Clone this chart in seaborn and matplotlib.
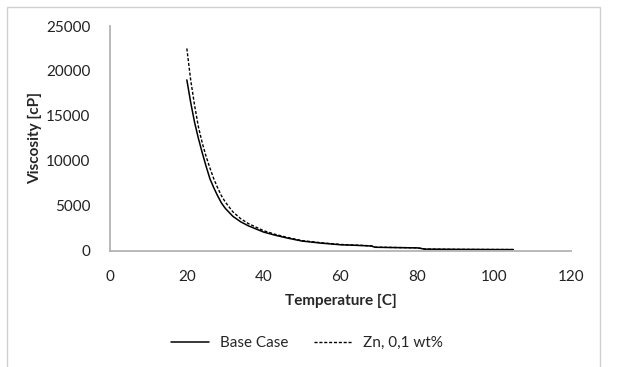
import matplotlib
matplotlib.use("Agg")
import matplotlib.pyplot as plt
from matplotlib.patches import Rectangle
import seaborn as sns
import pandas as pd

temperature = [20, 21, 22, 23, 24, 25, 26, 27, 28, 29, 30, 32, 34, 36, 38, 40, 43, 46,
               50, 55, 60, 65, 68, 69, 75, 80, 82, 90, 100, 105]
base_case = [19000, 16500, 14300, 12500, 10900, 9400, 8000, 7000, 6100, 5300, 4700, 3800,
             3200, 2750, 2400, 2050, 1700, 1400, 1050, 820, 640, 560, 500, 360, 320, 290,
             150, 125, 105, 100]
zn_01 = [22500, 19000, 16200, 13800, 12000, 10500, 9200, 8000, 7000, 6100, 5400, 4300,
         3550, 3000, 2600, 2200, 1800, 1470, 1100, 860, 670, 580, 520, 370, 330, 300,
         160, 130, 110, 105]
series_names = ["Base Case", "Zn, 0,1 wt%"]
x_ticks = [0, 20, 40, 60, 80, 100, 120]
y_ticks = [0, 5000, 10000, 15000, 20000, 25000]

sns.set_theme(style="white")
plt.rcParams["font.family"] = ["Lato", "DejaVu Sans"]

df = pd.DataFrame({"T": temperature * 2,
                   "V": base_case + zn_01,
                   "Series": [series_names[0]] * len(temperature) + [series_names[1]] * len(temperature)})

fig = plt.figure(figsize=(6.18, 3.67), dpi=100)
ax = fig.add_axes([110 / 618, 1 - 250.5 / 367, (571 - 110) / 618, (250.5 - 26) / 367])

sns.lineplot(data=df[df.Series == series_names[0]], x="T", y="V", ax=ax, color="black",
             linewidth=1.1, label=series_names[0], legend=False)
sns.lineplot(data=df[df.Series == series_names[1]], x="T", y="V", ax=ax, color="black",
             linewidth=1.0, linestyle=(0, (2.2, 1.3)), label=series_names[1], legend=False)

ax.set_xlim(0, 120)
ax.set_ylim(0, 25000)
ax.set_xticks(x_ticks)
ax.set_yticks(y_ticks)
ax.tick_params(axis="both", length=0, labelsize=11, colors="#222222")
ax.tick_params(axis="y", pad=14)
ax.tick_params(axis="x", pad=14)
for s in ["top", "right"]:
    ax.spines[s].set_visible(False)
for s in ["left", "bottom"]:
    ax.spines[s].set_color("#b3b3b3")
    ax.spines[s].set_linewidth(1.3)
ax.set_xlabel("Temperature [C]", fontsize=11, fontweight="bold", labelpad=7)
ax.set_ylabel("Viscosity [cP]", fontsize=11, fontweight="bold", labelpad=3)
ax.grid(False)

handles, labels = ax.get_legend_handles_labels()
fig.legend(handles, labels, loc="center", bbox_to_anchor=(307 / 618, 1 - 343 / 367), ncol=2,
           frameon=False, fontsize=11, handlelength=2.5, handletextpad=0.7, columnspacing=1.7)

fig.patches.append(Rectangle((7 / 618, -0.1), (600 - 7) / 618, 1.1 - 7 / 367,
                             transform=fig.transFigure, fill=False, edgecolor="#d0d0d0",
                             linewidth=1.0))

fig.savefig("out.png", dpi=100)
